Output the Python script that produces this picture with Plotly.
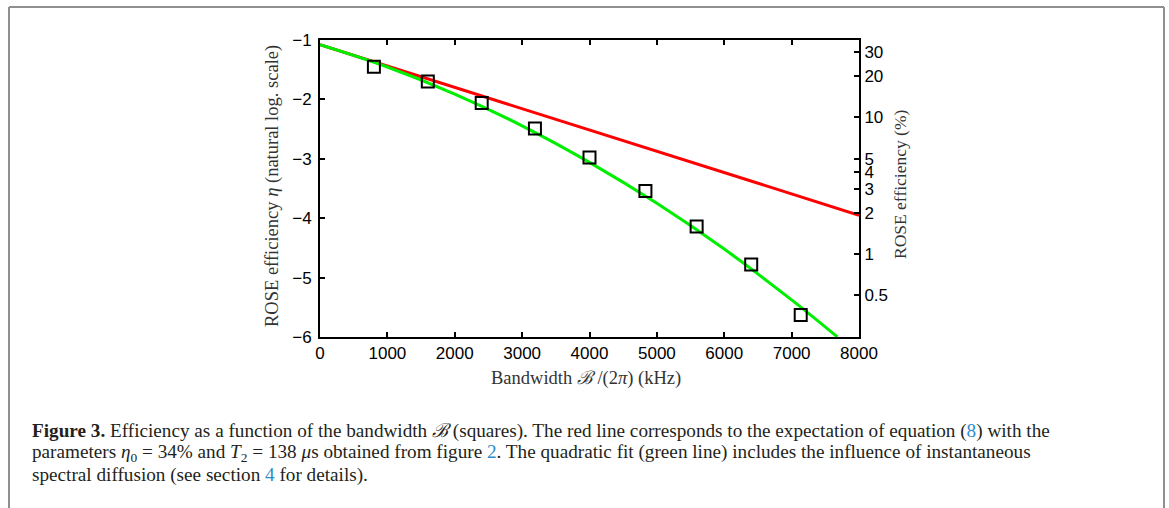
import plotly.graph_objects as go

# ---- data ----
bandwidth_khz = [800, 1600, 2400, 3190, 4000, 4830, 5590, 6400, 7135]
log_efficiency = [-1.45, -1.70, -2.06, -2.49, -2.98, -3.54, -4.14, -4.78, -5.63]

red_x = [0, 8000]
red_y = [-1.08, -3.95]

green_x = [0, 1000, 2000, 3000, 4000, 5000, 6000, 7000, 7680]
green_y = [-1.08, -1.455, -1.91, -2.445, -3.06, -3.75, -4.52, -5.375, -6.0]

x_ticks = [0, 1000, 2000, 3000, 4000, 5000, 6000, 7000, 8000]
left_ticks = [-1, -2, -3, -4, -5, -6]
right_pct_labels = ["30", "20", "10", "5", "4", "3", "2", "1", "0.5"]
right_pct_logpos = [-1.204, -1.609, -2.303, -2.996, -3.219, -3.507, -3.912, -4.605, -5.298]

# ---- layout geometry (pixels) ----
WIDTH, HEIGHT = 1169, 508
L, R, T, B = 320, 859, 40, 337
PW, PH = R - L, B - T


def px(xp):
    return (xp - L) / PW


def py(yp):
    return (B - yp) / PH


TICKFONT = dict(family="Liberation Sans, Arial, sans-serif", size=17, color="black")
SERIF = "Liberation Serif, Times New Roman, serif"
CAP_COLOR = "#231f20"
LINK = "#2b8ccc"

fig = go.Figure()
fig.add_trace(go.Scatter(x=red_x, y=red_y, mode="lines",
                         line=dict(color="#ff0000", width=3), hoverinfo="skip"))
fig.add_trace(go.Scatter(x=green_x, y=green_y, mode="lines", line_shape="spline",
                         line=dict(color="#00ee00", width=3), hoverinfo="skip"))
fig.add_trace(go.Scatter(x=bandwidth_khz, y=log_efficiency, mode="markers",
                         marker=dict(symbol="square-open", size=12, color="black",
                                     line=dict(color="black", width=2))))
# invisible trace to activate right axis
fig.add_trace(go.Scatter(x=[None], y=[None], yaxis="y2", showlegend=False))

axis_common = dict(showline=True, linecolor="black", linewidth=2, ticks="inside",
                   ticklen=5, tickwidth=1.5, tickcolor="black", showgrid=False,
                   zeroline=False, tickfont=TICKFONT)

fig.update_layout(
    width=WIDTH, height=HEIGHT,
    margin=dict(l=L, r=WIDTH - R, t=T, b=HEIGHT - B),
    paper_bgcolor="white", plot_bgcolor="white",
    showlegend=False,
    xaxis=dict(range=[0, 8000], tickvals=x_ticks, mirror="ticks", **axis_common),
    yaxis=dict(range=[-6, -1], tickvals=left_ticks, ticklabelstandoff=3, **axis_common),
    yaxis2=dict(range=[-6, -1], overlaying="y", side="right",
                tickvals=right_pct_logpos, ticktext=right_pct_labels, **axis_common),
)

annotations = [
    dict(text="ROSE efficiency <i>η</i> (natural log. scale)", x=px(272), y=py(186),
         textangle=-90, font=dict(family=SERIF, size=18.5, color="#333333")),
    dict(text="Bandwidth <i>ℬ</i> /(2<i>π</i>) (kHz)", x=px(586), y=py(378),
         font=dict(family=SERIF, size=18.5, color="#333333")),
    dict(text="ROSE efficiency (%)", x=px(900), y=py(184),
         textangle=-90, font=dict(family=SERIF, size=17.5, color="#333333")),
]

cap_lines = [
    "<b>Figure 3.</b> Efficiency as a function of the bandwidth <i>ℬ</i> (squares). "
    "The red line corresponds to the expectation of equation "
    f"(<span style='color:{LINK}'>8</span>) with the",
    "parameters <i>η</i><sub>0</sub> = 34% and <i>T</i><sub>2</sub> = 138 <i>μ</i>s "
    f"obtained from figure <span style='color:{LINK}'>2</span>. "
    "The quadratic fit (green line) includes the influence of instantaneous",
    f"spectral diffusion (see section <span style='color:{LINK}'>4</span> for details).",
]
cap_y = [431, 453, 475]
for txt, yy in zip(cap_lines, cap_y):
    annotations.append(dict(text=txt, x=px(30), y=py(yy), xanchor="left", yanchor="middle",
                            align="left",
                            font=dict(family=SERIF, size=19.2, color=CAP_COLOR)))

for a in annotations:
    a.setdefault("xanchor", "center")
    a.setdefault("yanchor", "middle")
    a.update(xref="paper", yref="paper", showarrow=False)
fig.update_layout(annotations=annotations)

# outer frame of the figure panel
frame = dict(color="#8f8f8f", width=2)
fig.update_layout(shapes=[
    dict(type="line", xref="paper", yref="paper", x0=px(9), x1=px(1164), y0=py(7), y1=py(7), line=frame),
    dict(type="line", xref="paper", yref="paper", x0=px(9), x1=px(9), y0=py(7), y1=py(510), line=frame),
    dict(type="line", xref="paper", yref="paper", x0=px(1164), x1=px(1164), y0=py(7), y1=py(510), line=frame),
])

fig.write_html(
    "out.html",
    config={"displayModeBar": False},
    post_script="document.body.style.margin='0';document.body.style.overflow='hidden';",
)
